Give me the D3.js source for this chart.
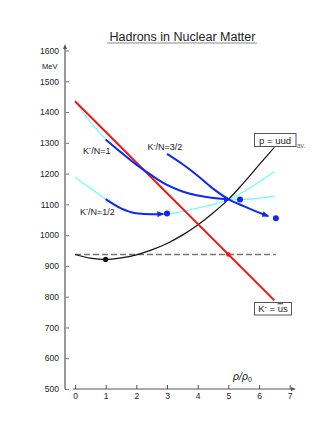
<!DOCTYPE html>
<meta charset="utf-8">
<title>Hadrons in Nuclear Matter</title>
<style>
body { margin: 0; background: white; font-family: Arial, "Liberation Sans", sans-serif; }
svg { display: block; background: white; }
.tick text { fill: #222; font-size: 8.5px; }
</style>
<body>
<div id="chart"></div>
<script src="https://d3js.org/d3.v7.min.js"></script>
<script>

// density in units of rho0
const rhoGrid = [0, 0.5, 1, 1.5, 2, 2.5, 3, 3.5, 4, 4.5, 5, 5.5, 6, 6.5];

// proton mass (black)
const protonMass = [937, 925, 921, 926, 936, 952, 973, 1000, 1033, 1072, 1116, 1170, 1228, 1285];

// K- = u-bar s (red straight line)
const kaonRho = [0, 6.5];
const kaonMass = [1435, 788];

// vacuum nucleon mass (dashed)
const nucleonMass = 937;
const nucleonRho = [0, 6.55];

// K-/N = 1 (cyan full, blue segment)
const kn1Mass = [1435, 1368, 1311, 1269, 1229, 1194, 1163, 1142, 1129, 1121, 1117, 1116, 1120, 1127];
const kn1Blue = [1, 5.05];
const kn1Dot = [5.38, 1116];

// K-/N = 1/2
const kn12Mass = [1187, 1152, 1117, 1087, 1071, 1068, 1069, 1077, 1088, 1099, 1115, 1141, 1173, 1206];
const kn12Blue = [1, 2.88];
const kn12Dot = [3.0, 1070];

// K-/N = 3/2 (blue only)
const kn32Rho = [3, 3.5, 4, 4.5, 5, 5.5, 6, 6.3];
const kn32Mass = [1264, 1231, 1193, 1151, 1117, 1094, 1073, 1062];
const kn32Dot = [6.55, 1055];

const blackDot = [1, 921];
const redDot = [5, 937];

const yTicks = [500, 600, 700, 800, 900, 1000, 1100, 1200, 1300, 1400, 1500, 1600];
const xTicks = [0, 1, 2, 3, 4, 5, 6, 7];

const W = 332, H = 430;
const blue = "#1028f5", cyan = "#66ffff", red = "#ff1010";

const svg = d3.select("#chart").append("svg")
    .attr("width", W).attr("height", H);

const x = d3.scaleLinear().domain([0, 7]).range([75, 289.7]);
const y = d3.scaleLinear().domain([500, 1600]).range([389, 50.5]);

const defs = svg.append("defs");
defs.append("marker").attr("id", "tri")
    .attr("markerUnits", "userSpaceOnUse")
    .attr("viewBox", "0 -3 7 6").attr("refX", 6).attr("refY", 0)
    .attr("markerWidth", 7).attr("markerHeight", 6).attr("orient", "auto")
  .append("path").attr("d", "M0,-3L7,0L0,3Z").attr("fill", blue);
defs.append("marker").attr("id", "axarr")
    .attr("markerUnits", "userSpaceOnUse")
    .attr("viewBox", "0 -2 5 4").attr("refX", 1).attr("refY", 0)
    .attr("markerWidth", 5).attr("markerHeight", 4).attr("orient", "auto")
  .append("path").attr("d", "M0,-2L5,0L0,2Z").attr("fill", "#555");

// title
svg.append("text")
    .attr("x", 182.5).attr("y", 40.5)
    .attr("text-anchor", "middle")
    .style("font-size", "12.5px").attr("fill", "#222")
    .text("Hadrons in Nuclear Matter");
svg.append("line")
    .attr("x1", 107).attr("x2", 257).attr("y1", 43).attr("y2", 43)
    .attr("stroke", "#888").attr("stroke-width", 1.2);

// y axis
const yAxis = svg.append("g")
    .attr("transform", "translate(65,0)")
    .call(d3.axisLeft(y).tickValues(yTicks).tickFormat(d3.format("d"))
      .tickSizeInner(-4).tickSizeOuter(0).tickPadding(6));
yAxis.select(".domain").remove();
yAxis.selectAll(".tick line").attr("stroke", "#777");
svg.append("line")
    .attr("x1", 65).attr("x2", 65).attr("y1", 389).attr("y2", 48)
    .attr("stroke", "#999").attr("stroke-width", 2)
    .attr("marker-end", "url(#axarr)");
svg.append("text").attr("x", 57.5).attr("y", 68.5)
    .attr("text-anchor", "end").style("font-size", "7.5px").attr("fill", "#222")
    .text("MeV");

// x axis
const xAxis = svg.append("g")
    .attr("transform", "translate(0,389)")
    .call(d3.axisBottom(x).tickValues(xTicks).tickFormat(d3.format("d"))
      .tickSizeInner(-4).tickSizeOuter(0).tickPadding(4));
xAxis.select(".domain").remove();
xAxis.selectAll(".tick line").attr("stroke", "#555");
svg.append("line")
    .attr("x1", 73).attr("x2", 292).attr("y1", 389).attr("y2", 389)
    .attr("stroke", "#555").attr("stroke-width", 1)
    .attr("marker-end", "url(#axarr)");
const lab = svg.append("text").attr("x", 233).attr("y", 380)
    .style("font-size", "10.5px").style("font-style", "italic").attr("fill", "#222");
lab.append("tspan").text("ρ/ρ");
lab.append("tspan").attr("dy", 2).style("font-size", "7px").style("font-style", "normal").text("0");

const line = d3.line().x(d => x(d[0])).y(d => y(d[1])).curve(d3.curveMonotoneX);
const pairs = (xs, ys) => xs.map((v, i) => [v, ys[i]]);

// interpolate along grid so blue segment ends exactly at given rho
function segment(xs, ys, a, b) {
  const at = r => {
    let i = 0;
    while (i < xs.length - 2 && xs[i + 1] < r) i++;
    const t = (r - xs[i]) / (xs[i + 1] - xs[i]);
    return ys[i] + t * (ys[i + 1] - ys[i]);
  };
  const pts = [[a, at(a)]];
  xs.forEach((v, i) => { if (v > a && v < b) pts.push([v, ys[i]]); });
  pts.push([b, at(b)]);
  return pts;
}

// dashed nucleon line
svg.append("line")
    .attr("x1", x(nucleonRho[0])).attr("x2", x(nucleonRho[1]))
    .attr("y1", y(nucleonMass)).attr("y2", y(nucleonMass))
    .attr("stroke", "#777").attr("stroke-width", 1.5)
    .attr("stroke-dasharray", "6,3");

// cyan theory curves
[kn1Mass, kn12Mass].forEach(m => {
  svg.append("path").attr("d", line(pairs(rhoGrid, m)))
      .attr("fill", "none").attr("stroke", cyan).attr("stroke-width", 1.2);
});

// proton
svg.append("path").attr("d", line(pairs(rhoGrid, protonMass)))
    .attr("fill", "none").attr("stroke", "#111").attr("stroke-width", 1.2);

// kaon
svg.append("path").attr("d", d3.line().x(d => x(d[0])).y(d => y(d[1]))(pairs(kaonRho, kaonMass)))
    .attr("fill", "none").attr("stroke", red).attr("stroke-width", 2);

// blue segments
const blueSegs = [
  segment(rhoGrid, kn1Mass, kn1Blue[0], kn1Blue[1]),
  segment(rhoGrid, kn12Mass, kn12Blue[0], kn12Blue[1]),
  pairs(kn32Rho, kn32Mass)
];
blueSegs.forEach(p => {
  svg.append("path").attr("d", line(p))
      .attr("fill", "none").attr("stroke", blue).attr("stroke-width", 2)
      .attr("marker-end", "url(#tri)");
});

// dots
svg.selectAll("circle.b").data([kn1Dot, kn12Dot, kn32Dot]).join("circle")
    .attr("class", "b").attr("cx", d => x(d[0])).attr("cy", d => y(d[1]))
    .attr("r", 3).attr("fill", blue);
svg.append("circle").attr("cx", x(blackDot[0])).attr("cy", y(blackDot[1]))
    .attr("r", 2.6).attr("fill", "#111");
svg.append("circle").attr("cx", x(redDot[0])).attr("cy", y(redDot[1]))
    .attr("r", 2.3).attr("fill", red);

// curve labels
function knLabel(px, py, rest) {
  const t = svg.append("text").attr("x", px).attr("y", py)
      .style("font-size", "9px").attr("fill", "#222");
  t.append("tspan").text("K");
  t.append("tspan").attr("dy", -3.5).style("font-size", "6.5px").text("-");
  t.append("tspan").attr("dy", 3.5).text("/N=" + rest);
}
knLabel(x(0.26), y(1264), "1");
knLabel(x(2.36), y(1276), "3/2");
knLabel(x(0.16), y(1067), "1/2");

// boxes
svg.append("rect").attr("x", 254.5).attr("y", 133.5).attr("width", 41.5).attr("height", 13)
    .attr("fill", "white").attr("stroke", "#555").attr("stroke-width", 1);
svg.append("text").attr("x", 275).attr("y", 143.5).attr("text-anchor", "middle")
    .style("font-size", "9.5px").attr("fill", "#222").text("p = uud");
svg.append("text").attr("x", 297).attr("y", 147.5)
    .style("font-size", "6.5px").attr("fill", "#666").text("av.");

svg.append("rect").attr("x", 254.5).attr("y", 302.5).attr("width", 37).attr("height", 12.5)
    .attr("fill", "white").attr("stroke", "#555").attr("stroke-width", 1);
const kt = svg.append("text").attr("x", 273).attr("y", 312.3).attr("text-anchor", "middle")
    .style("font-size", "9.5px").attr("fill", "#222");
kt.append("tspan").text("K");
kt.append("tspan").attr("dy", -3.5).style("font-size", "6.5px").text("-");
kt.append("tspan").attr("dy", 3.5).text(" = ");
kt.append("tspan").style("text-decoration", "overline").text("u");
kt.append("tspan").text("s");

</script>
</body>
